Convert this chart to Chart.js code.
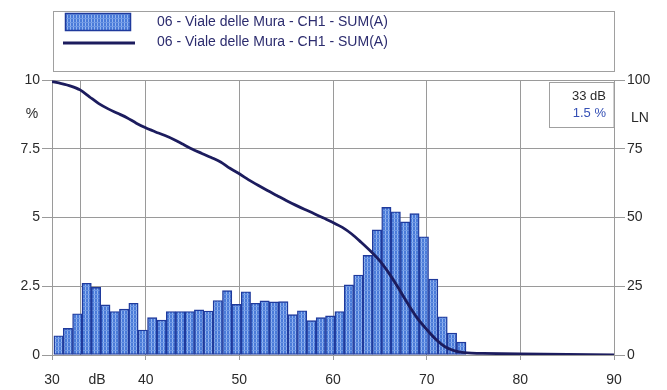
<!DOCTYPE html>
<html>
<head>
<meta charset="utf-8">
<script src="https://cdn.jsdelivr.net/npm/chart.js@4.4.1/dist/chart.umd.min.js"></script>
<style>
  html, body { margin: 0; padding: 0; background: #ffffff; }
  #wrap { width: 667px; height: 390px; position: relative; }
</style>
</head>
<body>
<div id="wrap"><canvas id="chart" width="667" height="390"></canvas></div>
<script>
// Level distribution, 1 dB bands (lower edge of each band, dB)
const bandStart = [30, 31, 32, 33, 34, 35, 36, 37, 38, 39,
                   40, 41, 42, 43, 44, 45, 46, 47, 48, 49,
                   50, 51, 52, 53, 54, 55, 56, 57, 58, 59,
                   60, 61, 62, 63, 64, 65, 66, 67, 68, 69,
                   70, 71, 72, 73];
// Share of time spent in each band (%)
const bandPercent = [0.70, 0.97, 1.50, 2.61, 2.46, 1.82, 1.58, 1.67, 1.88, 0.91,
                     1.36, 1.27, 1.58, 1.58, 1.58, 1.64, 1.60, 1.98, 2.34, 1.84,
                     2.30, 1.88, 1.97, 1.93, 1.94, 1.47, 1.61, 1.25, 1.36, 1.42,
                     1.58, 2.55, 2.91, 3.62, 4.55, 5.37, 5.21, 4.84, 5.14, 4.30,
                     2.76, 1.39, 0.80, 0.47];

// Cumulative exceedance curve LN (%)
const lnLevel = [30, 31, 32, 33, 34, 35, 36, 37, 38, 39,
                 40, 41, 42, 43, 44, 45, 46, 47, 48, 49,
                 50, 51, 52, 53, 54, 55, 56, 57, 58, 59,
                 60, 61, 62, 63, 64, 65, 66, 67, 68, 69,
                 70, 71, 72, 73, 74, 76, 80, 85, 90];
const lnValue = [99.4, 98.7, 97.8, 96.4, 93.9, 91.4, 89.5, 87.9, 86.3, 84.3,
                 82.6, 81.2, 79.9, 78.4, 76.6, 74.8, 73.3, 71.8, 70.2, 67.9,
                 65.9, 63.7, 61.7, 59.8, 58.0, 56.2, 54.5, 52.9, 51.4, 49.8,
                 48.2, 46.4, 44.0, 41.0, 37.8, 34.2, 29.6, 24.3, 18.6, 13.4,
                 9.3, 5.6, 2.9, 1.5, 0.9, 0.6, 0.4, 0.2, 0.0];

// Axis ticks
const xTicks = [30, 40, 50, 60, 70, 80, 90];
const pctTicks = [0, 2.5, 5, 7.5, 10];
const lnTicks = [0, 25, 50, 75, 100];

// Cursor readout
const cursorLevel = 33;
const cursorPercent = 1.5;
const seriesName = '06 - Viale delle Mura - CH1 - SUM(A)';

const FONT = '"Liberation Sans", Arial, sans-serif';
const GRID = '#9a9a9a';
const TEXT = '#2a2a2a';
const LINE = '#1c1c5e';
const BAR_EDGE = '#1f3a9c';

// Speckled blue fill used by the histogram bars
function barPattern(ctx) {
  const c = document.createElement('canvas');
  c.width = 3; c.height = 4;
  const p = c.getContext('2d');
  p.fillStyle = '#4a7bd9'; p.fillRect(0, 0, 3, 4);
  p.fillStyle = '#93b4ef'; p.fillRect(1, 0, 1, 4);
  p.fillStyle = '#6d97e4'; p.fillRect(0, 2, 3, 1);
  return ctx.createPattern(c, 'repeat');
}

const canvas = document.getElementById('chart');
const ctx = canvas.getContext('2d');
const fill = barPattern(ctx);

// Bars sit just right of each band's lower edge
const barData = bandStart.map((b, i) => ({ x: b + 0.7, y: bandPercent[i] }));
const lineData = lnLevel.map((l, i) => ({ x: l, y: lnValue[i] }));

const overlay = {
  id: 'overlay',
  beforeDatasetsDraw(chart) {
    const { ctx, chartArea: a, scales } = chart;
    const cx = Math.round(scales.x.getPixelForValue(cursorLevel)) + 0.5;
    ctx.save();
    ctx.strokeStyle = GRID; ctx.lineWidth = 1;
    ctx.beginPath(); ctx.moveTo(cx, a.top); ctx.lineTo(cx, a.bottom); ctx.stroke();
    ctx.restore();
  },
  afterDraw(chart) {
    const { ctx, chartArea: a } = chart;
    ctx.save();
    // legend frame
    ctx.strokeStyle = '#a0a0a0'; ctx.lineWidth = 1;
    ctx.strokeRect(53.5, 11.5, a.right - 53, 60);
    // bar swatch
    ctx.fillStyle = fill; ctx.fillRect(65, 13, 66, 18);
    ctx.strokeStyle = BAR_EDGE; ctx.lineWidth = 1.5; ctx.strokeRect(65.5, 13.5, 65, 17);
    // line swatch
    ctx.strokeStyle = LINE; ctx.lineWidth = 3;
    ctx.beginPath(); ctx.moveTo(63, 43); ctx.lineTo(135, 43); ctx.stroke();
    ctx.fillStyle = '#2c2c6e'; ctx.font = '14px ' + FONT; ctx.textBaseline = 'middle'; ctx.textAlign = 'left';
    ctx.fillText(seriesName, 157, 22);
    ctx.fillText(seriesName, 157, 42);

    // cursor readout box
    ctx.fillStyle = '#ffffff';
    ctx.fillRect(549, 82, a.right - 549, 45);
    ctx.strokeStyle = '#a0a0a0'; ctx.lineWidth = 1;
    ctx.strokeRect(549.5, 82.5, a.right - 549.5, 45);
    ctx.textAlign = 'right'; ctx.font = '13px ' + FONT;
    ctx.fillStyle = TEXT; ctx.fillText(cursorLevel + ' dB', 606, 96);
    ctx.fillStyle = '#3550b5'; ctx.fillText(cursorPercent + ' %', 606, 113);

    // unit labels
    ctx.fillStyle = TEXT; ctx.font = '14px ' + FONT; ctx.textAlign = 'center';
    ctx.fillText('%', 32, 114);
    ctx.fillText('LN', 640, 118);
    ctx.fillText('dB', 97, 380);
    ctx.restore();
  }
};

new Chart(ctx, {
  type: 'bar',
  data: {
    datasets: [
      {
        type: 'line',
        label: seriesName,
        data: lineData,
        yAxisID: 'y1',
        borderColor: LINE,
        borderWidth: 2.8,
        pointRadius: 0,
        tension: 0.3,
        order: 1
      },
      {
        type: 'bar',
        label: seriesName,
        data: barData,
        yAxisID: 'y',
        backgroundColor: fill,
        borderColor: BAR_EDGE,
        borderWidth: 1.4,
        borderSkipped: false,
        barPercentage: 1,
        categoryPercentage: 1,
        order: 2
      }
    ]
  },
  options: {
    responsive: false,
    animation: false,
    events: [],
    layout: { padding: { top: 80, left: 0, right: 0, bottom: 0 } },
    plugins: { legend: { display: false }, tooltip: { enabled: false } },
    scales: {
      x: {
        type: 'linear',
        min: 30, max: 90,
        offset: false,
        afterBuildTicks(s) { s.ticks = xTicks.map(v => ({ value: v })); },
        afterFit(s) { s.height = 35; },
        grid: { color: GRID, lineWidth: 1, tickLength: 5, offset: false },
        border: { display: true, color: GRID },
        ticks: { color: TEXT, font: { family: FONT, size: 14 }, padding: 12, maxRotation: 0 }
      },
      y: {
        position: 'left',
        min: 0, max: 10,
        afterBuildTicks(s) { s.ticks = pctTicks.map(v => ({ value: v })); },
        afterFit(s) { s.width = 52; },
        grid: { color: GRID, lineWidth: 1, tickLength: 10 },
        border: { display: true, color: GRID },
        ticks: { color: TEXT, font: { family: FONT, size: 14 }, padding: 2, callback: v => String(v) }
      },
      y1: {
        position: 'right',
        min: 0, max: 100,
        afterBuildTicks(s) { s.ticks = lnTicks.map(v => ({ value: v })); },
        afterFit(s) { s.width = 53; },
        grid: { drawOnChartArea: false, color: GRID, tickLength: 11 },
        border: { display: true, color: GRID },
        ticks: { color: TEXT, font: { family: FONT, size: 14 }, padding: 2, callback: v => String(v) }
      }
    }
  },
  plugins: [overlay]
});
</script>
</body>
</html>
